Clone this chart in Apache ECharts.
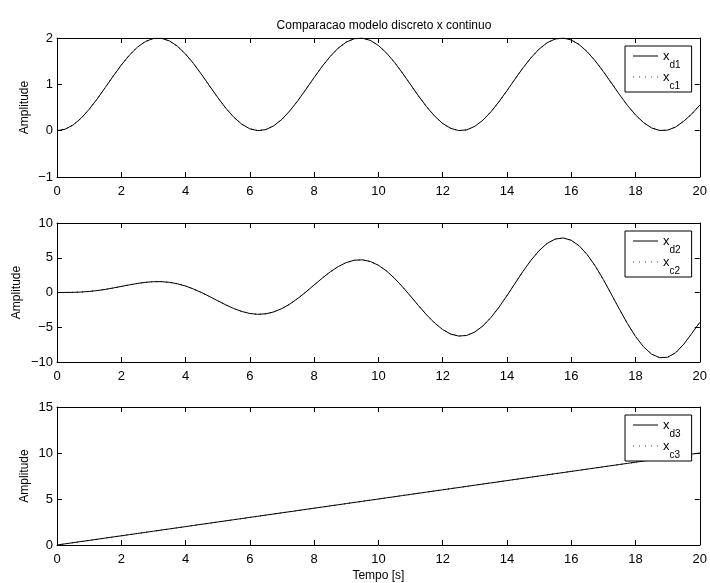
<!DOCTYPE html>
<html>
<head>
<meta charset="utf-8">
<script src="https://cdn.jsdelivr.net/npm/echarts@6/dist/echarts.min.js"></script>
<style>html,body{margin:0;padding:0;background:#fff}#c{width:710px;height:583px}</style>
</head>
<body>
<div id="c"></div>
<script>
var title = 'Comparacao modelo discreto x continuo';
var tempo = [0,0.25,0.5,0.75,1,1.25,1.5,1.75,2,2.25,2.5,2.75,3,3.25,3.5,3.75,4,4.25,4.5,4.75,5,5.25,5.5,5.75,6,6.25,6.5,6.75,7,7.25,7.5,7.75,8,8.25,8.5,8.75,9,9.25,9.5,9.75,10,10.25,10.5,10.75,11,11.25,11.5,11.75,12,12.25,12.5,12.75,13,13.25,13.5,13.75,14,14.25,14.5,14.75,15,15.25,15.5,15.75,16,16.25,16.5,16.75,17,17.25,17.5,17.75,18,18.25,18.5,18.75,19,19.25,19.5,19.75,20];
var xd1 = [0,0.031,0.122,0.268,0.460,0.685,0.929,1.178,1.416,1.628,1.801,1.924,1.990,1.994,1.936,1.821,1.654,1.446,1.211,0.962,0.716,0.488,0.291,0.139,0.040,0.001,0.023,0.107,0.246,0.432,0.653,0.896,1.146,1.386,1.602,1.781,1.911,1.985,1.997,1.948,1.839,1.678,1.476,1.243,0.996,0.748,0.517,0.315,0.156,0.050,0.002,0.017,0.093,0.225,0.405,0.622,0.863,1.113,1.355,1.575,1.760,1.897,1.978,1.999,1.958,1.857,1.702,1.504,1.275,1.029,0.781,0.546,0.340,0.174,0.060,0.005,0.011,0.079,0.204,0.36,0.55];
var xc1 = xd1.slice();
var xd2 = [0,0.003,0.020,0.066,0.151,0.277,0.446,0.648,0.871,1.096,1.301,1.462,1.556,1.561,1.463,1.253,0.929,0.500,-0.015,-0.589,-1.189,-1.774,-2.302,-2.730,-3.020,-3.140,-3.066,-2.789,-2.310,-1.647,-0.831,0.095,1.077,2.053,2.958,3.729,4.306,4.642,4.699,4.460,3.923,3.109,2.057,0.822,-0.524,-1.900,-3.217,-4.388,-5.331,-5.977,-6.269,-6.177,-5.688,-4.821,-3.614,-2.133,-0.462,1.299,3.041,4.651,6.023,7.060,7.686,7.847,7.517,6.702,5.439,3.793,1.858,-0.252,-2.408,-4.475,-6.318,-7.816,-8.862,-9.378,-9.318,-8.669,-7.457,-5.9,-4.3];
var xc2 = xd2.slice();
var xd3 = [0,0.125,0.25,0.375,0.5,0.625,0.75,0.875,1,1.125,1.25,1.375,1.5,1.625,1.75,1.875,2,2.125,2.25,2.375,2.5,2.625,2.75,2.875,3,3.125,3.25,3.375,3.5,3.625,3.75,3.875,4,4.125,4.25,4.375,4.5,4.625,4.75,4.875,5,5.125,5.25,5.375,5.5,5.625,5.75,5.875,6,6.125,6.25,6.375,6.5,6.625,6.75,6.875,7,7.125,7.25,7.375,7.5,7.625,7.75,7.875,8,8.125,8.25,8.375,8.5,8.625,8.75,8.875,9,9.125,9.25,9.375,9.5,9.625,9.75,9.875,10];
var xc3 = xd3.slice();
var xTicks = {min: 0, max: 20, interval: 2};
var yRanges = [{min: -1, max: 2, interval: 1}, {min: -10, max: 10, interval: 5}, {min: 0, max: 15, interval: 5}];

function pairs(v) { return tempo.map(function (t, i) { return [t, v[i]]; }); }

var FONT = '"Liberation Sans", Arial, Helvetica, sans-serif';
var grids = [
  {left: 57, right: 9, top: 38, height: 139},
  {left: 57, right: 9, top: 223, height: 139},
  {left: 57, right: 9, top: 407, height: 140}
];
var yNameGaps = [26, 34, 26];
function minusFmt(v) { return String(v).replace('-', '\u2212'); }
var xAxis = [], yAxis = [];
grids.forEach(function (g, i) {
  var base = {
    type: 'value', gridIndex: i, min: xTicks.min, max: xTicks.max, interval: xTicks.interval,
    axisLine: {show: true, onZero: false, lineStyle: {color: '#000', width: 1}},
    axisTick: {show: true, inside: true, length: 5, lineStyle: {color: '#000'}},
    splitLine: {show: false}
  };
  xAxis.push(Object.assign({}, base, {
    position: 'bottom',
    axisLabel: {color: '#000', fontSize: 13, fontFamily: FONT, margin: 8},
    name: i === 2 ? 'Tempo [s]' : '', nameLocation: 'middle', nameGap: 25, nameMoveOverlap: false,
    nameTextStyle: {color: '#000', fontSize: 12, fontFamily: FONT}
  }));
  xAxis.push(Object.assign({}, base, {position: 'top', axisLabel: {show: false}}));
  var yb = {
    type: 'value', gridIndex: i, min: yRanges[i].min, max: yRanges[i].max, interval: yRanges[i].interval,
    axisLine: {show: true, onZero: false, lineStyle: {color: '#000', width: 1}},
    axisTick: {show: true, inside: true, length: 5, lineStyle: {color: '#000'}},
    splitLine: {show: false}
  };
  yAxis.push(Object.assign({}, yb, {
    position: 'left',
    axisLabel: {color: '#000', fontSize: 13, fontFamily: FONT, margin: 4, formatter: minusFmt},
    name: 'Amplitude', nameLocation: 'middle', nameGap: yNameGaps[i], nameMoveOverlap: false,
    nameTextStyle: {color: '#000', fontSize: 12, fontFamily: FONT}
  }));
  yAxis.push(Object.assign({}, yb, {position: 'right', axisLabel: {show: false}}));
});

var SOLID = 'path://M0,0h25v1h-25z';
var DOT = 'path://M0,0h1v1h-1zM6,0h1v1h-1zM12,0h1v1h-1zM18,0h1v1h-1zM24,0h1v1h-1z';

var dsets = [[xd1, xc1], [xd2, xc2], [xd3, xc3]];
var series = [];
var legends = [];
dsets.forEach(function (d, i) {
  var n = i + 1;
  series.push({
    name: 'x_d' + n, type: 'line', xAxisIndex: 2 * i, yAxisIndex: 2 * i,
    data: pairs(d[0]), smooth: false, symbol: 'none', animation: false,
    lineStyle: {color: '#000', width: 1, type: 'solid'}, itemStyle: {color: '#000'}
  });
  series.push({
    name: 'x_c' + n, type: 'line', xAxisIndex: 2 * i, yAxisIndex: 2 * i,
    data: pairs(d[1]), smooth: false, symbol: 'none', animation: false,
    lineStyle: {color: '#000', width: 1, type: [1, 4]}, itemStyle: {color: '#444'}
  });
  legends.push({
    data: [{name: 'x_d' + n, icon: SOLID}, {name: 'x_c' + n, icon: DOT}],
    orient: 'vertical',
    left: 625, top: grids[i].top + 8,
    backgroundColor: '#fff', borderColor: '#000', borderWidth: 1, borderRadius: 0,
    padding: [3, 11, 1, 8], itemWidth: 25, itemHeight: 1, itemGap: 0,
    itemStyle: {borderWidth: 0},
    selectedMode: false,
    textStyle: {color: '#000', fontSize: 13, fontFamily: FONT,
      rich: {
        b: {fontSize: 13, fontFamily: FONT, color: '#000', lineHeight: 14, padding: [1, 0, 0, 0], verticalAlign: 'top'},
        s: {fontSize: 10, fontFamily: FONT, color: '#000', lineHeight: 10, padding: [11, 0, 0, 0], verticalAlign: 'top'}
      }},
    formatter: function (name) { return '{b|x}{s|' + name.slice(2) + '}'; }
  });
});

var chart = echarts.init(document.getElementById('c'), null, {renderer: 'canvas'});
chart.setOption({
  backgroundColor: '#fff',
  animation: false,
  title: {text: title, left: 379, textAlign: 'center', top: 15,
    textStyle: {color: '#000', fontSize: 12, fontWeight: 'normal', fontFamily: FONT}},
  grid: grids,
  xAxis: xAxis,
  yAxis: yAxis,
  legend: legends,
  series: series
});
</script>
</body>
</html>
